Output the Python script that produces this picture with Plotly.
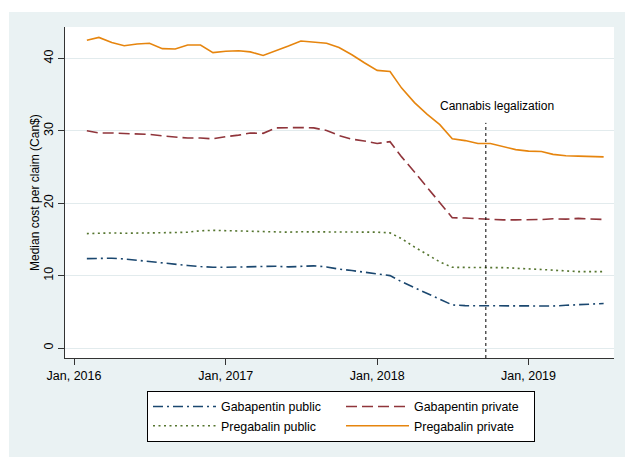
import pandas as pd
import plotly.graph_objects as go

# Monthly observations, Feb 2016 - Jul 2019
months = pd.date_range("2016-02-01", "2019-07-01", freq="MS")

gabapentin_public = [
    12.35, 12.4, 12.4, 12.3, 12.1, 12.0, 11.8, 11.55, 11.4, 11.25, 11.15,
    11.15, 11.2, 11.25, 11.3, 11.3, 11.2, 11.25, 11.35, 11.2, 10.9, 10.7, 10.45,
    10.2, 10.0, 9.15, 8.35, 7.55, 6.75, 5.95, 5.85, 5.85, 5.8, 5.75, 5.75,
    5.75, 5.75, 5.8, 5.9, 5.95, 6.05, 6.15,
]
gabapentin_private = [
    30.0, 29.7, 29.7, 29.65, 29.5, 29.5, 29.3, 29.15, 29.0, 29.0, 28.9,
    29.2, 29.4, 29.7, 29.65, 30.4, 30.45, 30.45, 30.4, 30.05, 29.35, 28.85, 28.6,
    28.25, 28.5, 26.4, 24.3, 22.2, 20.1, 18.0, 17.95, 17.85, 17.7, 17.7, 17.7,
    17.7, 17.75, 17.85, 17.8, 17.9, 17.85, 17.75,
]
pregabalin_public = [
    15.8, 15.85, 15.9, 15.85, 15.85, 15.9, 15.9, 15.95, 16.0, 16.2, 16.25,
    16.2, 16.1, 16.05, 16.0, 15.95, 16.0, 16.05, 16.05, 16.05, 16.05, 16.0, 16.0,
    16.0, 15.9, 15.1, 13.95, 12.9, 11.9, 11.15, 11.1, 11.1, 11.1, 11.1, 11.05,
    10.95, 10.85, 10.75, 10.6, 10.55, 10.55, 10.55,
]
pregabalin_private = [
    42.5, 42.9, 42.2, 41.75, 42.0, 42.1, 41.35, 41.3, 41.85, 41.85, 40.8,
    41.0, 41.05, 40.9, 40.4, 41.0, 41.7, 42.4, 42.2, 42.1, 41.5, 40.5, 39.4,
    38.35, 38.2, 35.9, 33.9, 32.3, 30.85, 28.9, 28.65, 28.25, 28.25, 27.8, 27.4,
    27.2, 27.15, 26.75, 26.55, 26.5, 26.45, 26.4,
]

x_tick_dates = ["2016-01-01", "2017-01-01", "2018-01-01", "2019-01-01"]
x_tick_labels = ["Jan, 2016", "Jan, 2017", "Jan, 2018", "Jan, 2019"]
y_ticks = [0, 10, 20, 30, 40]

legalization_line_date = "2018-09-20"
legalization_label_date = "2018-10-17"

FONT = "Liberation Sans, Arial, Helvetica, sans-serif"
BG = "#eaf2f3"

X_RANGE = ["2015-12-10 07:00", "2019-07-26"]
Y_RANGE = [-1.38, 44.34]

series = [
    ("Gabapentin public", gabapentin_public, "#1a476f", "10px,4px,2px,4px"),
    ("Gabapentin private", gabapentin_private, "#90353b", "11px,5px"),
    ("Pregabalin public", pregabalin_public, "#55752f", "2px,3.5px"),
    ("Pregabalin private", pregabalin_private, "#e6850e", "solid"),
]

fig = go.Figure()
for name, values, color, dash in series:
    fig.add_trace(go.Scatter(
        x=months, y=values, name=name, mode="lines",
        line=dict(color=color, width=1.6, dash=dash),
    ))

# Dotted marker for the legalization date
fig.add_shape(
    type="line", xref="x", yref="y",
    x0=legalization_line_date, x1=legalization_line_date,
    y0=Y_RANGE[0], y1=31.1,
    line=dict(color="black", width=1, dash="dot"),
)
fig.add_annotation(
    x=legalization_label_date, y=33.4, xref="x", yref="y",
    text="Cannabis legalization", showarrow=False,
    xanchor="center", yanchor="middle",
    font=dict(family=FONT, size=12, color="black"),
)

# Y-axis title
fig.add_annotation(
    x=-30 / 549, y=(358 - 193) / 331, xref="paper", yref="paper",
    text="Median cost per claim (Can$)", showarrow=False, textangle=-90,
    xanchor="center", yanchor="middle",
    font=dict(family=FONT, size=12, color="black"),
)

# White page margin strips around the grey graph region
fig.add_shape(type="rect", xref="paper", yref="paper",
              x0=-66 / 549, x1=(9 - 65) / 549, y0=-100 / 331, y1=360 / 331,
              fillcolor="white", line=dict(width=0), layer="above")
fig.add_shape(type="rect", xref="paper", yref="paper",
              x0=-66 / 549, x1=562 / 549, y0=(358 - 12) / 331, y1=360 / 331,
              fillcolor="white", line=dict(width=0), layer="above")

fig.update_layout(
    width=625, height=457,
    margin=dict(l=65, r=11, t=27, b=99, pad=0),
    paper_bgcolor=BG, plot_bgcolor="white",
    font=dict(family=FONT, size=12, color="black"),
    showlegend=True,
    legend=dict(
        orientation="h",
        x=(147 - 65) / 549, y=(358 - 391) / 331,
        xanchor="left", yanchor="top",
        bgcolor="white", bordercolor="black", borderwidth=1,
        itemwidth=63, entrywidth=115,
        font=dict(family=FONT, size=12.4, color="black"),
    ),
    xaxis=dict(
        type="date", range=X_RANGE,
        tickvals=x_tick_dates, ticktext=x_tick_labels,
        ticks="outside", ticklen=6, tickcolor="#333333", tickwidth=1,
        showline=True, linecolor="#333333", linewidth=1,
        showgrid=False, zeroline=False,
        tickfont=dict(family=FONT, size=12.5, color="black"),
    ),
    yaxis=dict(
        range=Y_RANGE, tickvals=y_ticks, tickangle=-90,
        ticks="outside", ticklen=6, tickcolor="#333333", tickwidth=1,
        showline=True, linecolor="#333333", linewidth=1,
        showgrid=True, gridcolor="#e2ebed", gridwidth=1,
        zeroline=False,
        tickfont=dict(family=FONT, size=12.5, color="black"),
    ),
)

fig.write_html("out.html")
